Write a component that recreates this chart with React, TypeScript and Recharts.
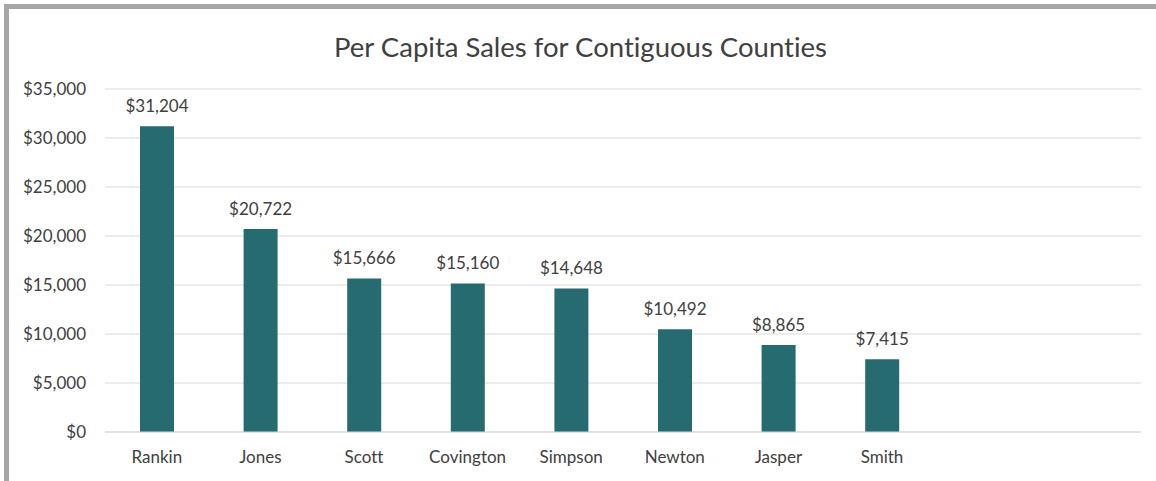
import React from "react";
import { BarChart, Bar, XAxis, YAxis, CartesianGrid, LabelList } from "recharts";

const counties = ["Rankin", "Jones", "Scott", "Covington", "Simpson", "Newton", "Jasper", "Smith", "", " "];
const sales: (number | null)[] = [31204, 20722, 15666, 15160, 14648, 10492, 8865, 7415, null, null];
const yTicks = [0, 5000, 10000, 15000, 20000, 25000, 30000, 35000];
const title = "Per Capita Sales for Contiguous Counties";

const data = counties.map((name, i) => ({ name, value: sales[i] }));

const FONT = "Lato, 'Open Sans', sans-serif";
const money = (v: any) => (v == null || v === "" ? "" : "$" + Number(v).toLocaleString("en-US"));

export default function App() {
  return (
    <div style={{ position: "absolute", left: 0, top: 0, width: 1156, height: 481, background: "#fff", fontFamily: FONT, overflow: "hidden", fontVariantLigatures: "none" }}>
      <div style={{ position: "absolute", left: 4, top: 4, width: 1152, height: 477, borderTop: "5px solid #a6a6a6", borderLeft: "5px solid #a6a6a6", boxSizing: "border-box" }} />
      <div style={{ position: "absolute", left: 0, top: 29, width: 1161, textAlign: "center", fontSize: 27.5, color: "#404040", lineHeight: "36px", fontVariantLigatures: "none" }}>
        {title}
      </div>
      <div style={{ position: "absolute", left: 0, top: 0 }}>
        <BarChart width={1156} height={481} data={data} margin={{ top: 89, right: 15, bottom: 19, left: 0 }}>
          <CartesianGrid vertical={false} stroke="#d9d9d9" />
          <XAxis
            dataKey="name"
            axisLine={{ stroke: "#d9d9d9" }}
            tickLine={false}
            height={30}
            tickMargin={13}
            tick={{ fill: "#404040", fontSize: 17, fontFamily: FONT }}
            interval={0}
          />
          <YAxis
            width={105}
            domain={[0, 35000]}
            ticks={yTicks}
            axisLine={false}
            tickLine={false}
            tickMargin={13}
            tickFormatter={money}
            tick={{ fill: "#404040", fontSize: 17, fontFamily: FONT }}
          />
          <Bar dataKey="value" fill="#266b70" barSize={34} isAnimationActive={false}>
            <LabelList dataKey="value" position="top" offset={14} formatter={money} fill="#404040" fontSize={17} fontFamily={FONT} />
          </Bar>
        </BarChart>
      </div>
    </div>
  );
}
